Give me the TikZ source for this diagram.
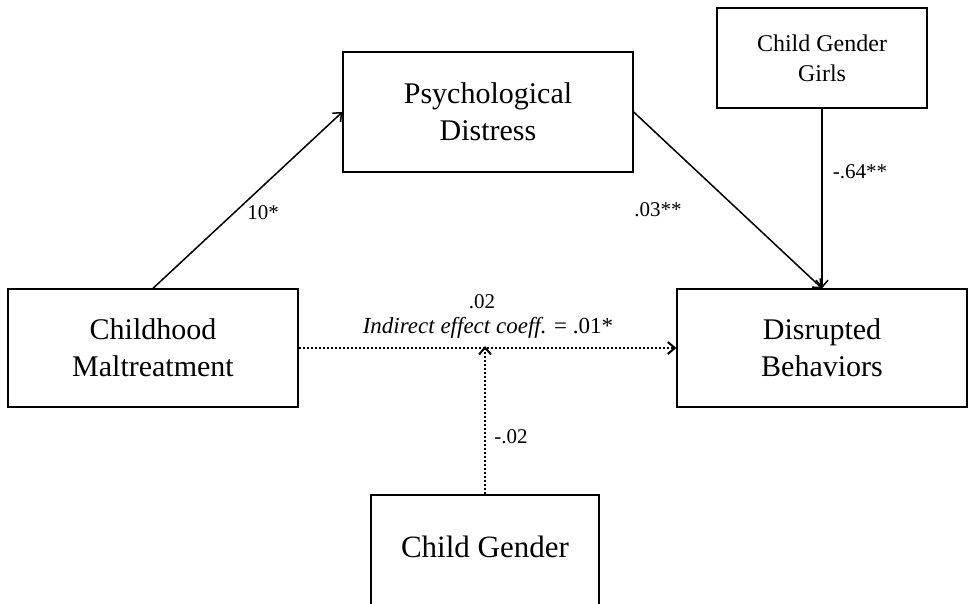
\documentclass[tikz,border=0pt]{standalone}
\usepackage{fontspec}
\setmainfont{Liberation Serif}
\usetikzlibrary{positioning,arrows.meta}

\tikzset{
  var/.style={draw,line width=1.3pt,align=center,inner sep=0pt,
    font=\fontsize{30}{37}\selectfont},
  coef/.style={inner sep=1pt,font=\fontsize{21}{25}\selectfont},
  path/.style={-{Straight Barb[length=7pt,width=12pt]},line width=1.5pt},
  dotpath/.style={path,line width=2pt,dotted}
}

\begin{document}
\begin{tikzpicture}[x=1pt,y=-1pt]
        \useasboundingbox (0,0) rectangle (969,604);
        \clip (0,0) rectangle (969,604);
        % boxes
        \node [var,minimum width=290,minimum height=120] (distress) at (488,112) {Psychological\\Distress};
        \node [var,minimum width=210,minimum height=100,font=\fontsize{24}{30}\selectfont] (girls) at (822,58) {Child Gender\\Girls};
        \node [var,minimum width=290,minimum height=118] (maltreat) at (153,348) {Childhood\\Maltreatment};
        \node [var,minimum width=290,minimum height=118] (disrupt) at (822,348) {Disrupted\\Behaviors};
        \node [var,minimum width=228,minimum height=150] (gender) at (485,570) {};
        \node [font=\fontsize{31}{37}\selectfont] (gendertext) at (485,547) {Child Gender};
        % paths
        \draw [path] (maltreat.north) -- (distress.west);
        \draw [path] (distress.east) -- (disrupt.north);
        \draw [path] (girls.south) -- (disrupt.north);
        \draw [dotpath] (maltreat.east) -- (disrupt.west);
        \coordinate (mid) at (gender.north |- maltreat.east);
        \draw [dotpath] (gender.north) -- ([yshift=2]mid);
        % coefficients
        \node [coef] (a) at (263,213) {10*};
        \node [coef] (b) at (658,210) {.03**};
        \node [coef] (g) at (860,172) {-.64**};
        \node [coef] (c) at (482,302) {.02};
        \node [coef,font=\fontsize{23}{27}\selectfont] (ind) at (488,328) {\textit{Indirect effect coeff.} = .01*};
        \node [coef] (w) at (511,437) {-.02};
\end{tikzpicture}
\end{document}
